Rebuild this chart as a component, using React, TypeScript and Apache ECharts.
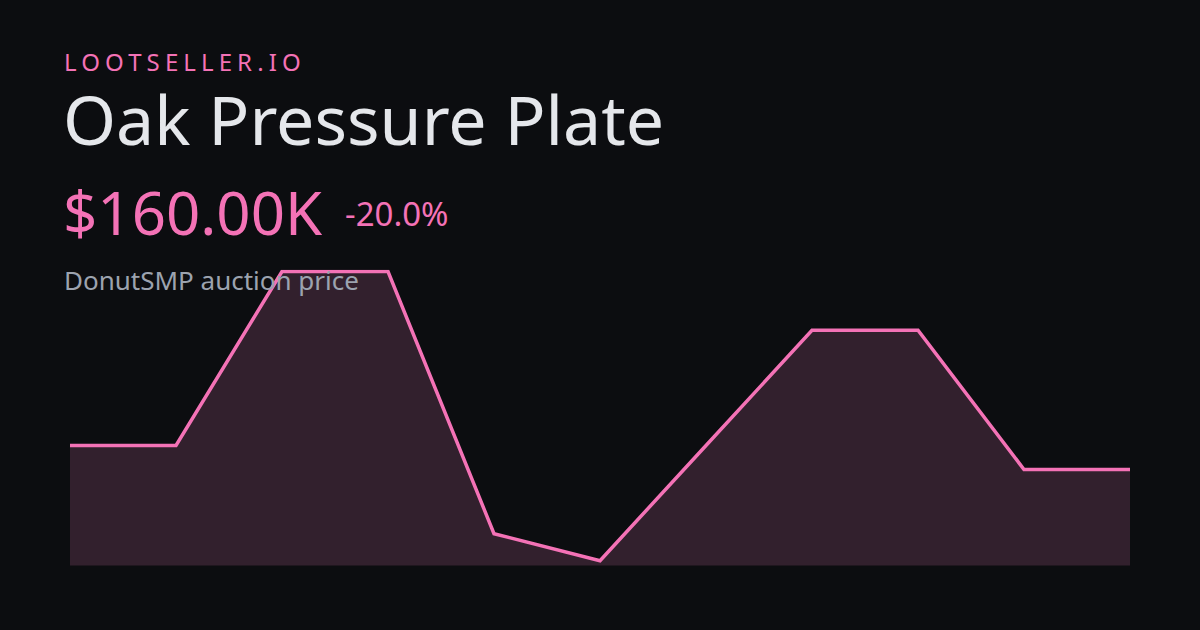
import React, { useEffect, useRef } from "react";
import * as echarts from "echarts";

const categories = ["1", "2", "3", "4", "5", "6", "7", "8", "9", "10", "11"];
const prices = [200, 200, 490, 490, 53, 8, 200, 392, 392, 160, 160];
const brand = "LOOTSELLER.IO";
const itemName = "Oak Pressure Plate";
const priceLabel = "$160.00K";
const changeLabel = "-20.0%";
const subtitle = "DonutSMP auction price";

const PINK = "#f472b6";
const BG = "#0c0d10";

export default function App() {
  const ref = useRef<HTMLDivElement>(null);
  useEffect(() => {
    if (!ref.current) return;
    const chart = echarts.init(ref.current, null, { renderer: "svg" });
    const font = "'Noto Sans', 'Open Sans', sans-serif";
    chart.setOption({
      animation: false,
      backgroundColor: BG,
      grid: { left: 70, right: 70, top: 271.5, bottom: 64.5 },
      xAxis: {
        type: "category",
        data: categories,
        boundaryGap: false,
        show: false,
      },
      yAxis: {
        type: "value",
        min: 0,
        max: 490,
        show: false,
        splitLine: { show: false },
      },
      series: [
        {
          type: "line",
          data: prices,
          symbol: "none",
          lineStyle: { color: PINK, width: 3.5, join: "miter" },
          areaStyle: { color: "#32202d", opacity: 1 },
          z: 2,
        },
      ],
      graphic: [
        {
          type: "text",
          x: 64,
          y: 49.5,
          z: 10,
          style: {
            text: brand,
            fill: PINK,
            font: `400 24px ${font}`,
          },
        },
        {
          type: "text",
          x: 63,
          y: 84,
          z: 10,
          style: {
            text: itemName,
            fill: "#e5e7eb",
            font: `400 68px ${font}`,
          },
        },
        {
          type: "text",
          x: 63,
          y: 182,
          z: 10,
          style: {
            text: priceLabel,
            fill: PINK,
            font: `400 60px ${font}`,
          },
        },
        {
          type: "text",
          x: 345,
          y: 197,
          z: 10,
          style: {
            text: changeLabel,
            fill: PINK,
            font: `400 33px ${font}`,
          },
        },
        {
          type: "text",
          x: 64,
          y: 267,
          z: 10,
          style: {
            text: subtitle,
            fill: "#9ca3af",
            font: `400 26px ${font}`,
          },
        },
      ],
    });
    const applySpacing = () => {
      const texts = ref.current?.querySelectorAll("text") || [];
      texts.forEach((t) => {
        if (t.textContent === brand) {
          (t as SVGTextElement).style.letterSpacing = "5.1px";
        }
      });
    };
    applySpacing();
    chart.on("finished", applySpacing);
    return () => chart.dispose();
  }, []);
  return (
    <div
      ref={ref}
      style={{ position: "fixed", left: 0, top: 0, width: 1200, height: 630 }}
    />
  );
}
